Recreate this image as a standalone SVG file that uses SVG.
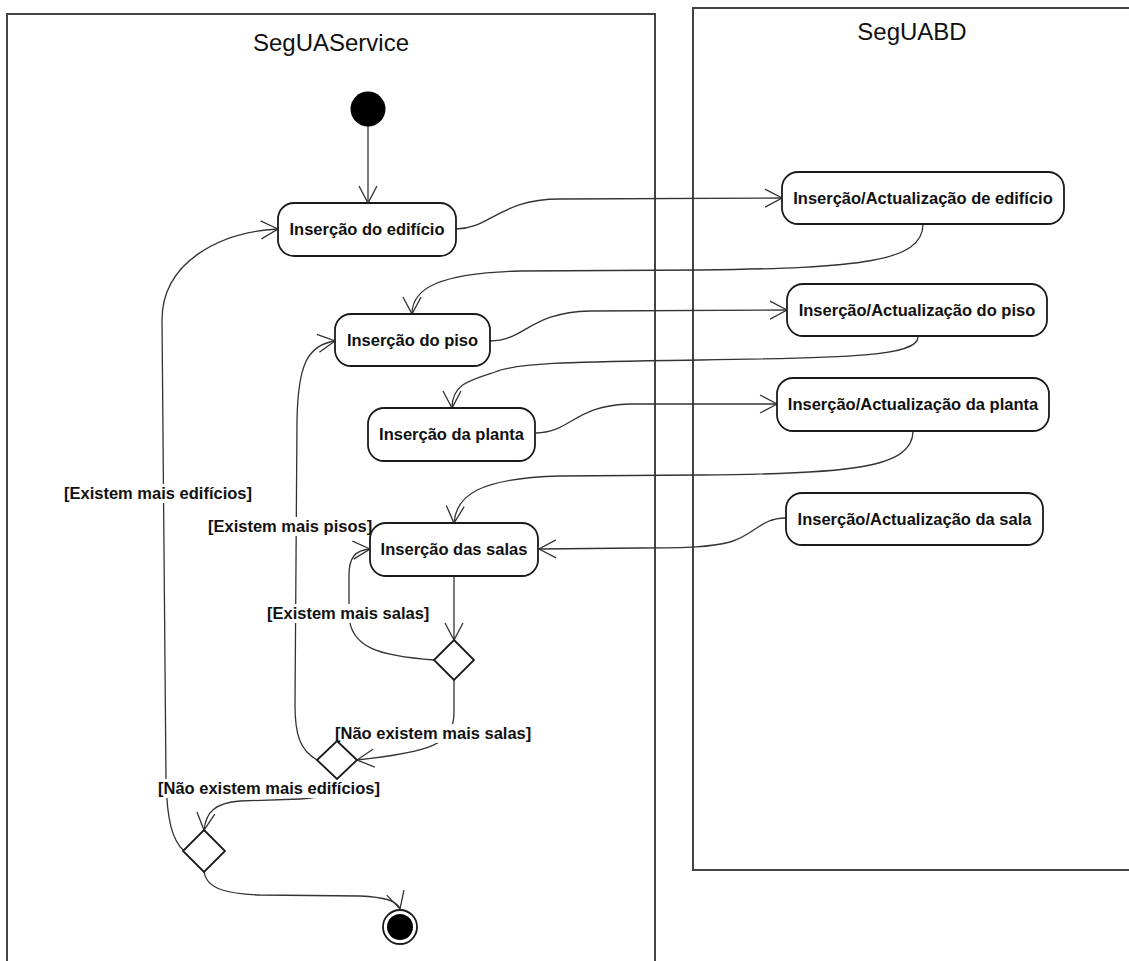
<svg xmlns="http://www.w3.org/2000/svg" width="1129" height="961" viewBox="0 0 1129 961">
  <defs>
    <style>
      .lane { fill: #ffffff; stroke: #444444; stroke-width: 2; }
      .lane-title { font-family: "Liberation Sans", Arial, sans-serif; font-size: 24px; fill: #111111; text-anchor: middle; }
      .action { fill: #ffffff; stroke: #1a1a1a; stroke-width: 1.8; }
      .action-text { font-family: "Liberation Sans", Arial, sans-serif; font-size: 16.5px; font-weight: bold; fill: #111111; text-anchor: middle; }
      .decision { fill: #ffffff; stroke: #1a1a1a; stroke-width: 1.8; }
      .flow { fill: none; stroke: #333333; stroke-width: 1.3; marker-end: url(#open-arrow); }
      .guard { font-family: "Liberation Sans", Arial, sans-serif; font-size: 16.5px; font-weight: bold; fill: #111111; }
      .guard-bg { fill: #ffffff; }
    </style>
    <marker id="open-arrow" markerUnits="userSpaceOnUse" markerWidth="20" markerHeight="22" refX="17" refY="9" orient="auto" overflow="visible">
      <path d="M0,0 L17,9 L0,18" fill="none" stroke="#333333" stroke-width="1.3"/>
    </marker>
  </defs>

  <rect width="1129" height="961" fill="#ffffff"/>

  <!-- swimlanes -->
  <g id="lane-service">
    <rect class="lane" x="7" y="14" width="648" height="960"/>
    <text class="lane-title" x="331" y="51">SegUAService</text>
  </g>
  <g id="lane-bd">
    <rect class="lane" x="693" y="8" width="450" height="862"/>
    <text class="lane-title" x="912" y="40">SegUABD</text>
  </g>

  <!-- control flows -->
  <g id="connectors">
    <path class="flow" d="M368,126 L368,203"/>
    <path class="flow" d="M456,229 C490,229 500,199 560,199 L782,198"/>
    <path class="flow" d="M923,224 C923,262 860,268 700,270 L520,271 C440,273 412,288 412,314"/>
    <path class="flow" d="M490,341 C525,341 530,312 590,311 L787,310"/>
    <path class="flow" d="M918,337 C918,356 850,358 700,360 C580,362 520,362 495,372 C470,380 452,384 452,408"/>
    <path class="flow" d="M536,433 C570,433 575,405 630,404 L777,404"/>
    <path class="flow" d="M913,431 C913,468 850,474 700,475 L560,476 C480,478 456,495 454,523"/>
    <path class="flow" d="M786,518 C760,518 755,535 730,542 C710,547 690,548 640,548 L539,549"/>
    <path class="flow" d="M454,576 L454,640"/>
    <path class="flow" d="M434,660 C380,656 350,648 349,615 L349,575 C349,558 355,550 370,549"/>
    <path class="flow" d="M454,680 L454,712 C454,745 430,752 357,760"/>
    <path class="flow" d="M317,760 C300,750 295,735 295,705 L297,420 C298,368 306,345 335,341"/>
    <path class="flow" d="M337,778 C337,795 320,798 300,799 L240,801 C215,803 206,812 204,830"/>
    <path class="flow" d="M184,851 C172,840 167,820 166,780 L162,320 C162,262 220,232 278,229"/>
    <path class="flow" d="M204,871 C206,890 230,894 260,895 L360,896 C386,897 398,902 400,909"/>
  </g>

  <!-- guard labels -->
  <g id="guards">
    <rect class="guard-bg" x="62" y="484" width="192" height="19"/>
    <text class="guard" x="64" y="499">[Existem mais edifícios]</text>
    <rect class="guard-bg" x="206" y="517" width="168" height="19"/>
    <text class="guard" x="208" y="532">[Existem mais pisos]</text>
    <rect class="guard-bg" x="265" y="604" width="165" height="19"/>
    <text class="guard" x="267" y="619">[Existem mais salas]</text>
    <rect class="guard-bg" x="333" y="724" width="199" height="19"/>
    <text class="guard" x="335" y="739">[Não existem mais salas]</text>
    <rect class="guard-bg" x="156" y="779" width="225" height="19"/>
    <text class="guard" x="158" y="794">[Não existem mais edifícios]</text>
  </g>

  <!-- nodes -->
  <g id="initial">
    <circle cx="368" cy="109" r="17.5" fill="#000000"/>
  </g>
  <g id="insercao-edificio">
    <rect class="action" x="278" y="203" width="178" height="53" rx="16"/>
    <text class="action-text" x="367" y="235">Inserção do edifício</text>
  </g>
  <g id="insercao-piso">
    <rect class="action" x="335" y="314" width="155" height="52" rx="16"/>
    <text class="action-text" x="412.5" y="346">Inserção do piso</text>
  </g>
  <g id="insercao-planta">
    <rect class="action" x="368" y="408" width="167" height="53" rx="16"/>
    <text class="action-text" x="451.5" y="440">Inserção da planta</text>
  </g>
  <g id="insercao-salas">
    <rect class="action" x="370" y="523" width="168" height="53" rx="16"/>
    <text class="action-text" x="454" y="555">Inserção das salas</text>
  </g>
  <g id="actualizacao-edificio">
    <rect class="action" x="782" y="172" width="282" height="52" rx="16"/>
    <text class="action-text" x="923" y="204">Inserção/Actualização de edifício</text>
  </g>
  <g id="actualizacao-piso">
    <rect class="action" x="787" y="284" width="260" height="52" rx="16"/>
    <text class="action-text" x="917" y="316">Inserção/Actualização do piso</text>
  </g>
  <g id="actualizacao-planta">
    <rect class="action" x="777" y="378" width="272" height="53" rx="16"/>
    <text class="action-text" x="913" y="410">Inserção/Actualização da planta</text>
  </g>
  <g id="actualizacao-sala">
    <rect class="action" x="786" y="493" width="257" height="52" rx="16"/>
    <text class="action-text" x="914.5" y="525">Inserção/Actualização da sala</text>
  </g>
  <g id="decisao-salas">
    <polygon class="decision" points="454,640 474,660 454,680 434,660"/>
  </g>
  <g id="decisao-pisos">
    <polygon class="decision" points="337,741 357,760 337,779 317,760"/>
  </g>
  <g id="decisao-edificios">
    <polygon class="decision" points="204,830 225,851 204,872 183,851"/>
  </g>
  <g id="final">
    <circle cx="400" cy="927" r="17" fill="#ffffff" stroke="#1a1a1a" stroke-width="1.8"/>
    <circle cx="400" cy="927" r="13" fill="#000000"/>
  </g>
</svg>
